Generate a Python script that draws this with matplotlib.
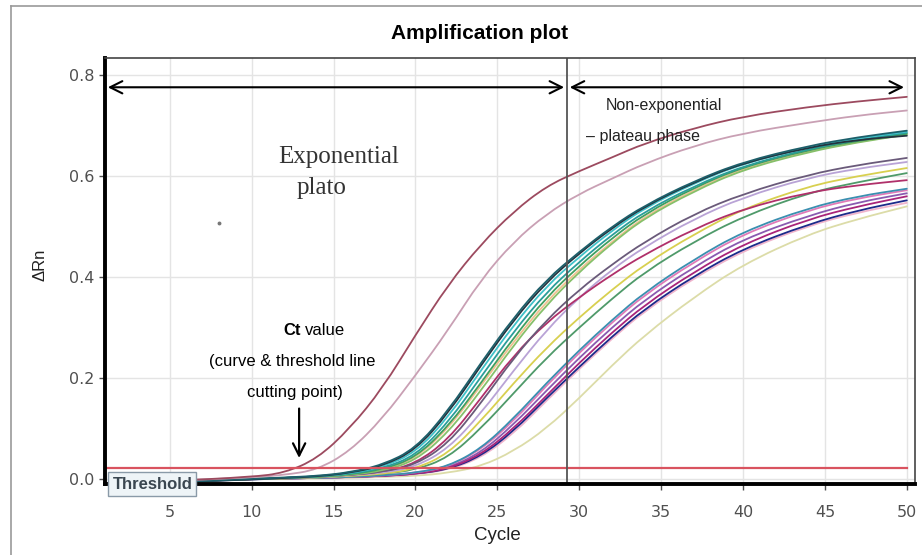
import numpy as np
import matplotlib
matplotlib.use("Agg")
import matplotlib.pyplot as plt
from matplotlib.lines import Line2D
from matplotlib.path import Path
from matplotlib.patches import PathPatch

plt.rcParams["font.family"] = ["Liberation Sans", "DejaVu Sans"]

cycles = [1, 5, 10, 12, 14, 16, 18, 20, 22, 24, 26, 28, 30, 32, 34, 37, 40, 44, 47, 50]

# Early samples
maroon = [-0.008, -0.004, 0.004, 0.012, 0.040, 0.100, 0.180, 0.285, 0.385, 0.465,
          0.530, 0.580, 0.610, 0.637, 0.665, 0.695, 0.718, 0.737, 0.748, 0.757]
mauve = [-0.008, -0.004, 0.003, 0.008, 0.018, 0.055, 0.120, 0.205, 0.295, 0.395,
         0.470, 0.525, 0.565, 0.595, 0.625, 0.660, 0.685, 0.706, 0.720, 0.730]

# Main teal / green cluster
teal_dark = [-0.010, -0.007, 0.000, 0.003, 0.006, 0.013, 0.028, 0.060, 0.135, 0.230,
             0.320, 0.395, 0.450, 0.500, 0.542, 0.590, 0.628, 0.660, 0.677, 0.690]
cyan = [-0.010, -0.006, 0.000, 0.002, 0.005, 0.011, 0.024, 0.052, 0.122, 0.215,
        0.305, 0.382, 0.440, 0.492, 0.537, 0.586, 0.625, 0.657, 0.675, 0.688]
teal = [-0.009, -0.006, 0.000, 0.002, 0.005, 0.010, 0.021, 0.046, 0.112, 0.202,
        0.292, 0.370, 0.430, 0.484, 0.530, 0.580, 0.620, 0.654, 0.672, 0.686]
green = [-0.009, -0.005, 0.000, 0.002, 0.004, 0.009, 0.019, 0.042, 0.104, 0.190,
         0.280, 0.360, 0.422, 0.477, 0.525, 0.577, 0.618, 0.652, 0.670, 0.684]
light_green = [-0.008, -0.005, 0.001, 0.002, 0.004, 0.008, 0.016, 0.036, 0.092, 0.175,
               0.265, 0.345, 0.410, 0.467, 0.517, 0.570, 0.613, 0.648, 0.667, 0.682]
near_black = [-0.011, -0.007, -0.001, 0.002, 0.005, 0.012, 0.026, 0.057, 0.130, 0.225,
              0.315, 0.390, 0.447, 0.497, 0.540, 0.588, 0.626, 0.657, 0.672, 0.680]
peach = [-0.009, -0.006, 0.000, 0.002, 0.004, 0.009, 0.018, 0.040, 0.100, 0.185,
         0.272, 0.352, 0.415, 0.470, 0.520, 0.573, 0.615, 0.650, 0.668, 0.683]

# Middle group
purple_gray = [-0.009, -0.006, 0.000, 0.002, 0.004, 0.008, 0.014, 0.028, 0.070, 0.150,
               0.240, 0.315, 0.375, 0.425, 0.470, 0.525, 0.565, 0.603, 0.622, 0.636]
magenta_dash = [-0.009, -0.006, 0.000, 0.002, 0.004, 0.008, 0.014, 0.030, 0.078, 0.160,
                0.245, 0.310, 0.360, 0.405, 0.445, 0.495, 0.535, 0.568, 0.582, 0.592]
lavender = [-0.008, -0.005, 0.000, 0.002, 0.003, 0.007, 0.012, 0.024, 0.060, 0.130,
            0.215, 0.295, 0.360, 0.415, 0.460, 0.515, 0.558, 0.597, 0.615, 0.628]
yellow = [-0.008, -0.005, 0.000, 0.001, 0.003, 0.006, 0.010, 0.020, 0.050, 0.115,
          0.190, 0.260, 0.320, 0.375, 0.425, 0.485, 0.535, 0.580, 0.600, 0.616]
sea_green = [-0.008, -0.005, 0.000, 0.001, 0.003, 0.006, 0.010, 0.018, 0.042, 0.100,
             0.170, 0.240, 0.300, 0.357, 0.410, 0.470, 0.520, 0.567, 0.588, 0.606]

# Late group
steel_blue = [-0.009, -0.006, 0.000, 0.001, 0.002, 0.004, 0.007, 0.012, 0.025, 0.060,
              0.120, 0.190, 0.255, 0.315, 0.370, 0.435, 0.490, 0.537, 0.560, 0.575]
pink = [-0.008, -0.005, 0.000, 0.001, 0.002, 0.004, 0.007, 0.012, 0.024, 0.058,
        0.115, 0.185, 0.250, 0.310, 0.365, 0.430, 0.485, 0.533, 0.556, 0.572]
magenta = [-0.009, -0.006, 0.000, 0.001, 0.002, 0.004, 0.006, 0.010, 0.020, 0.048,
           0.100, 0.165, 0.230, 0.290, 0.345, 0.410, 0.465, 0.515, 0.540, 0.560]
navy = [-0.010, -0.006, -0.001, 0.001, 0.002, 0.004, 0.006, 0.010, 0.019, 0.045,
        0.095, 0.160, 0.222, 0.282, 0.337, 0.402, 0.456, 0.505, 0.532, 0.552]
purple = [-0.009, -0.006, 0.000, 0.001, 0.002, 0.004, 0.006, 0.011, 0.022, 0.052,
          0.108, 0.175, 0.240, 0.300, 0.355, 0.420, 0.475, 0.522, 0.548, 0.566]
light_pink = [-0.008, -0.005, 0.000, 0.001, 0.002, 0.003, 0.005, 0.009, 0.018, 0.042,
              0.090, 0.155, 0.218, 0.278, 0.333, 0.398, 0.452, 0.502, 0.528, 0.547]
pale_yellow = [-0.008, -0.005, 0.000, 0.001, 0.001, 0.002, 0.004, 0.006, 0.012, 0.025,
               0.055, 0.100, 0.160, 0.225, 0.285, 0.360, 0.425, 0.485, 0.515, 0.540]

threshold = 0.022
phase_split = 29.25

series = [
    (pale_yellow, "#dcdca8"), (light_pink, "#f0b4cc"), (navy, "#1c2a8a"),
    (purple, "#8a5ab0"), (magenta, "#a8247a"), (pink, "#e07ab8"),
    (steel_blue, "#3a8fb0"), (sea_green, "#4f9a6a"), (yellow, "#d8d050"),
    (lavender, "#b9a3d6"), (magenta_dash, "#b0306a"), (purple_gray, "#6a5a7a"),
    (peach, "#f0c090"), (light_green, "#86c06a"), (green, "#3f9f5f"),
    (teal, "#2a9d9a"), (cyan, "#3fc1c9"), (near_black, "#24343f"),
    (teal_dark, "#1d5f6a"), (mauve, "#c9a0b4"), (maroon, "#9c4a5f"),
]


def smooth_path(xs, ys):
    # quadratic Bezier through the midpoints, read points act as control points
    pts = list(zip(xs, ys))
    verts = [pts[0]]
    codes = [Path.MOVETO]
    for i in range(1, len(pts) - 1):
        mid = ((pts[i][0] + pts[i + 1][0]) / 2, (pts[i][1] + pts[i + 1][1]) / 2)
        verts += [pts[i], mid]
        codes += [Path.CURVE3, Path.CURVE3]
    verts.append(pts[-1])
    codes.append(Path.LINETO)
    return Path(verts, codes)


fig = plt.figure(figsize=(9.22, 5.55), dpi=100)
ax = fig.add_axes([0.1139, 0.1279, 0.8785, 0.7676])

for vals, col in series:
    ax.add_patch(PathPatch(smooth_path(cycles, vals), fill=False, edgecolor=col,
                           lw=1.3, capstyle="round"))

ax.axhline(threshold, xmin=0, xmax=(50 - 1.05) / (50.5 - 1.05), color="#d9535f", lw=1.6)
ax.axvline(phase_split, color="#555555", lw=1.3)

ax.set_xlim(1.05, 50.5)
ax.set_ylim(-0.01, 0.834)
ax.set_xticks(range(5, 51, 5))
ax.set_yticks([0.0, 0.2, 0.4, 0.6, 0.8])
ax.set_yticklabels(["0.0", "0.2", "0.4", "0.6", "0.8"])
ax.tick_params(colors="#505050", labelsize=11.5, length=4, width=1)
ax.tick_params(axis="x", pad=11)
for lab in ax.get_xticklabels() + ax.get_yticklabels():
    lab.set_family("DejaVu Sans")
ax.grid(True, color="#e4e4e4", lw=1)
ax.set_axisbelow(True)

for side in ["left", "bottom"]:
    ax.spines[side].set_linewidth(2.8)
    ax.spines[side].set_color("black")
for side in ["top", "right"]:
    ax.spines[side].set_linewidth(1.2)
    ax.spines[side].set_color("#444444")

ax.set_xlabel("Cycle", fontsize=13.5, color="#222222")
ax.xaxis.set_label_coords(0.484, -0.10)
ax.set_ylabel("\u0394Rn", fontsize=12, color="#222222")
ax.yaxis.set_label_coords(-0.071, 0.514)
fig.text(0.52, 0.94, "Amplification plot", ha="center", va="center",
         fontsize=15, fontweight="bold")

# Phase arrows
arrow_y = 0.776
ax.annotate("", xy=(1.05, arrow_y), xytext=(phase_split, arrow_y),
            arrowprops=dict(arrowstyle="<->", lw=1.5, color="black", mutation_scale=22))
ax.annotate("", xy=(phase_split, arrow_y), xytext=(50.0, arrow_y),
            arrowprops=dict(arrowstyle="<->", lw=1.5, color="black", mutation_scale=22))

ax.text(15.33, 0.638, "Exponential", family="Liberation Serif", fontsize=18,
        color="#333333", ha="center", va="center")
ax.text(14.24, 0.577, "plato", family="Liberation Serif", fontsize=18,
        color="#333333", ha="center", va="center")
ax.text(31.63, 0.74, "Non-exponential", fontsize=11.5, color="#222222", va="center")
ax.text(30.41, 0.679, "\u2013 plateau phase", fontsize=11.5, color="#222222", va="center")

# Ct annotation
ax.text(13.02, 0.294, "Ct", fontsize=12, fontweight="bold", ha="right", va="center")
ax.text(13.27, 0.294, "value", fontsize=12, ha="left", va="center")
ax.text(12.48, 0.232, "(curve & threshold line", fontsize=12, ha="center", va="center")
ax.text(12.66, 0.172, "cutting point)", fontsize=12, ha="center", va="center")
ax.annotate("", xy=(12.9, 0.036), xytext=(12.9, 0.145),
            arrowprops=dict(arrowstyle="->", lw=1.6, color="black", mutation_scale=22))

ax.plot([8.0], [0.507], marker="o", ms=1.8, color="#777777")

ax.text(1.5, -0.01, "Threshold", fontsize=12, fontweight="bold", color="#3a4650",
        va="center", ha="left", clip_on=False, zorder=5,
        bbox=dict(boxstyle="square,pad=0.25", fc="#eef4f7", ec="#8a9aa8", lw=1))

# Outer frame of the screenshot
fig.add_artist(Line2D([11 / 922, 11 / 922], [0, 1 - 6 / 555], color="#999999", lw=1.2))
fig.add_artist(Line2D([11 / 922, 1], [1 - 6 / 555, 1 - 6 / 555], color="#999999", lw=1.2))

fig.savefig("out.png", dpi=100)
